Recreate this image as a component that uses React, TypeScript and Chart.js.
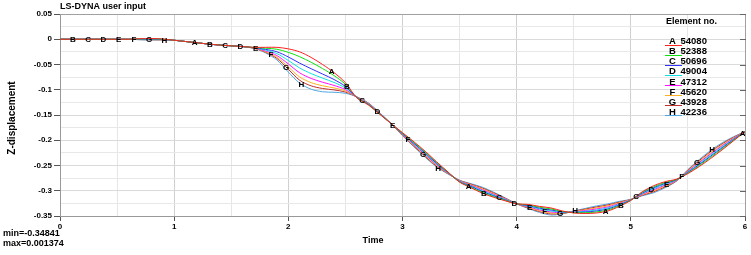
import { useEffect, useRef } from 'react';
import { Chart, registerables } from 'chart.js';

Chart.register(...registerables);

const TIMES = [
  0, 0.1, 0.2, 0.3, 0.4, 0.5, 0.6, 0.7, 0.8, 0.9,
  1.0, 1.1, 1.2, 1.3, 1.4, 1.5, 1.6, 1.7, 1.8, 1.9,
  2.0, 2.1, 2.2, 2.3, 2.4, 2.5, 2.6, 2.7, 2.8, 2.9,
  3.0, 3.1, 3.2, 3.3, 3.4, 3.5, 3.6, 3.7, 3.8, 3.9,
  4.0, 4.1, 4.2, 4.3, 4.4, 4.5, 4.6, 4.7, 4.8, 4.9,
  5.0, 5.1, 5.2, 5.3, 5.4, 5.5, 5.6, 5.7, 5.8, 5.9,
  6.0,
];

const SERIES_A = [
  0, 0, 0, 0, 0, 0, 0, 0.001, 0.0014, 0.0005,
  -0.002, -0.0045, -0.007, -0.0095, -0.0115, -0.013, -0.0145, -0.016, -0.016, -0.016,
  -0.019, -0.025, -0.036, -0.05, -0.066, -0.086, -0.116, -0.13, -0.1485, -0.167,
  -0.185, -0.203, -0.222, -0.243, -0.263, -0.283, -0.294, -0.305, -0.313, -0.32,
  -0.326, -0.327, -0.331, -0.334, -0.34, -0.344, -0.345, -0.344, -0.34, -0.331,
  -0.319, -0.302, -0.29, -0.282, -0.277, -0.266, -0.252, -0.236, -0.219, -0.201,
  -0.183,
];
const SERIES_B = [
  0, 0, 0, 0, 0, 0, 0, 0.0007, 0.001, 0.0002,
  -0.002, -0.0045, -0.007, -0.0095, -0.0115, -0.013, -0.0145, -0.0163, -0.0177, -0.0198,
  -0.0259, -0.0346, -0.0456, -0.0581, -0.0719, -0.0892, -0.1157, -0.1294, -0.1481, -0.167,
  -0.1859, -0.2044, -0.2237, -0.2444, -0.2636, -0.2824, -0.2929, -0.3033, -0.3116, -0.3191,
  -0.326, -0.3281, -0.3327, -0.336, -0.3409, -0.3434, -0.3436, -0.342, -0.338, -0.3296,
  -0.3187, -0.3031, -0.292, -0.2837, -0.2776, -0.2649, -0.25, -0.2337, -0.217, -0.1999,
  -0.183,
];
const SERIES_C = [
  0, 0, 0, 0, 0, 0, 0, 0.0004, 0.0006, -0.0001,
  -0.002, -0.0045, -0.007, -0.0095, -0.0115, -0.013, -0.0145, -0.0167, -0.0199, -0.0248,
  -0.0351, -0.0474, -0.0584, -0.0689, -0.0797, -0.0934, -0.1154, -0.1289, -0.1476, -0.167,
  -0.1867, -0.2059, -0.2254, -0.2459, -0.2641, -0.2819, -0.2917, -0.3016, -0.3101, -0.3183,
  -0.326, -0.3293, -0.3344, -0.338, -0.3417, -0.3429, -0.3421, -0.34, -0.336, -0.3281,
  -0.3184, -0.3043, -0.294, -0.2854, -0.2781, -0.2637, -0.248, -0.2314, -0.215, -0.1987,
  -0.183,
];
const SERIES_D = [
  0, 0, 0, 0, 0, 0, 0, 0.0001, 0.0002, -0.0004,
  -0.002, -0.0045, -0.007, -0.0095, -0.0115, -0.013, -0.0145, -0.017, -0.0215, -0.0285,
  -0.042, -0.057, -0.068, -0.077, -0.0855, -0.0965, -0.1151, -0.1283, -0.1472, -0.167,
  -0.1876, -0.2073, -0.2271, -0.2473, -0.2647, -0.2813, -0.2906, -0.2999, -0.3087, -0.3174,
  -0.326, -0.3304, -0.3361, -0.34, -0.3426, -0.3423, -0.3407, -0.338, -0.334, -0.3267,
  -0.3181, -0.3054, -0.296, -0.2871, -0.2787, -0.2626, -0.246, -0.2291, -0.213, -0.1976,
  -0.183,
];
const SERIES_E = [
  0, 0, 0, 0, 0, 0, 0, -0.0001, -0.0002, -0.0006,
  -0.002, -0.0045, -0.007, -0.0095, -0.0115, -0.013, -0.0145, -0.0173, -0.0232, -0.0323,
  -0.0489, -0.0666, -0.0776, -0.0851, -0.0914, -0.0997, -0.1149, -0.1277, -0.1468, -0.167,
  -0.1884, -0.2087, -0.2289, -0.2487, -0.2653, -0.2807, -0.2894, -0.2981, -0.3073, -0.3166,
  -0.326, -0.3316, -0.3379, -0.342, -0.3434, -0.3417, -0.3393, -0.336, -0.332, -0.3253,
  -0.3179, -0.3066, -0.298, -0.2889, -0.2793, -0.2614, -0.244, -0.2269, -0.211, -0.1964,
  -0.183,
];
const SERIES_F = [
  0, 0, 0, 0, 0, 0, 0, -0.0004, -0.0006, -0.0009,
  -0.002, -0.0045, -0.007, -0.0095, -0.0115, -0.013, -0.0145, -0.0176, -0.0246, -0.0355,
  -0.0549, -0.0749, -0.0859, -0.0921, -0.0964, -0.1024, -0.1146, -0.1271, -0.1464, -0.167,
  -0.1893, -0.2101, -0.2306, -0.2501, -0.2659, -0.2801, -0.2883, -0.2964, -0.3059, -0.3157,
  -0.326, -0.3327, -0.3396, -0.344, -0.3443, -0.3411, -0.3379, -0.334, -0.33, -0.3239,
  -0.3176, -0.3077, -0.3, -0.2906, -0.2799, -0.2603, -0.242, -0.2246, -0.209, -0.1953,
  -0.183,
];
const SERIES_G = [
  0, 0, 0, 0, 0, 0, 0, -0.0007, -0.001, -0.0012,
  -0.002, -0.0045, -0.007, -0.0095, -0.0115, -0.013, -0.0145, -0.0178, -0.0257, -0.038,
  -0.0595, -0.0813, -0.0923, -0.0975, -0.1003, -0.1045, -0.1143, -0.1266, -0.1459, -0.167,
  -0.1901, -0.2116, -0.2323, -0.2516, -0.2664, -0.2796, -0.2871, -0.2947, -0.3044, -0.3149,
  -0.326, -0.3339, -0.3413, -0.346, -0.3451, -0.3406, -0.3364, -0.332, -0.328, -0.3224,
  -0.3173, -0.3089, -0.302, -0.2923, -0.2804, -0.2591, -0.24, -0.2223, -0.207, -0.1941,
  -0.183,
];
const SERIES_H = [
  0, 0, 0, 0, 0, 0, 0, -0.001, -0.0014, -0.0015,
  -0.002, -0.0045, -0.007, -0.0095, -0.0115, -0.013, -0.0145, -0.018, -0.027, -0.041,
  -0.065, -0.087, -0.099, -0.104, -0.105, -0.107, -0.114, -0.126, -0.1455, -0.167,
  -0.191, -0.213, -0.234, -0.253, -0.267, -0.279, -0.286, -0.293, -0.303, -0.314,
  -0.326, -0.335, -0.343, -0.348, -0.346, -0.34, -0.335, -0.33, -0.326, -0.321,
  -0.317, -0.31, -0.304, -0.294, -0.281, -0.258, -0.238, -0.22, -0.205, -0.193,
  -0.183,
];

const CURVE_LETTERS = ['A', 'B', 'C', 'D', 'E', 'F', 'G', 'H'];
const ELEMENT_IDS = ['54080', '52388', '50696', '49004', '47312', '45620', '43928', '42236'];
const ALL_SERIES = [SERIES_A, SERIES_B, SERIES_C, SERIES_D, SERIES_E, SERIES_F, SERIES_G, SERIES_H];
const COLORS = ['#ff2020', '#10e010', '#3030ff', '#10e0e0', '#ff10ff', '#ffb020', '#c03030', '#50a8e0'];

const X_TICKS_MAJOR = [0, 1, 2, 3, 4, 5, 6];
const Y_TICKS_MAJOR = [0.05, 0, -0.05, -0.1, -0.15, -0.2, -0.25, -0.3, -0.35];

const TITLE = 'LS-DYNA user input';
const X_TITLE = 'Time';
const Y_TITLE = 'Z-displacement';
const LEGEND_TITLE = 'Element no.';
const MIN_VALUE = '-0.34841';
const MAX_VALUE = '0.001374';

const FONT = '"Liberation Sans", Arial, Helvetica, sans-serif';

const isMajorX = (v: number) => X_TICKS_MAJOR.some((m) => Math.abs(m - v) < 1e-6);
const isMajorY = (v: number) => Y_TICKS_MAJOR.some((m) => Math.abs(m - v) < 1e-6);

function interp(series: number[], t: number) {
  for (let i = 0; i < TIMES.length - 1; i++) {
    if (t >= TIMES[i] && t <= TIMES[i + 1]) {
      const f = (t - TIMES[i]) / (TIMES[i + 1] - TIMES[i]);
      return series[i] + f * (series[i + 1] - series[i]);
    }
  }
  return series[series.length - 1];
}

const decorPlugin = {
  id: 'decor',
  afterDatasetsDraw(chart: any) {
    const { ctx, scales } = chart;
    const xs = scales.x;
    const ys = scales.y;
    ctx.save();
    ctx.fillStyle = '#000';
    ctx.font = `bold 8px ${FONT}`;
    ctx.textAlign = 'center';
    ctx.textBaseline = 'middle';
    const spacing = 0.13333;
    for (let k = 0; k < 60; k++) {
      const t = -0.02 + k * spacing;
      const idx = k % 9;
      if (idx === 8 || t < 0.02 || t > 6) continue;
      const yv = interp(ALL_SERIES[idx], t);
      ctx.fillText(CURVE_LETTERS[idx], xs.getPixelForValue(t), ys.getPixelForValue(yv) + 0.5);
    }
    ctx.restore();
  },
  afterDraw(chart: any) {
    const { ctx, chartArea, scales } = chart;
    const ys = scales.y;
    ctx.save();
    ctx.strokeStyle = '#a0a0a0';
    ctx.lineWidth = 1;
    ctx.beginPath();
    ctx.moveTo(chartArea.left, chartArea.top + 0.5);
    ctx.lineTo(chartArea.right + 0.5, chartArea.top + 0.5);
    ctx.lineTo(chartArea.right + 0.5, chartArea.bottom);
    ctx.stroke();
    ctx.strokeStyle = '#666';
    Y_TICKS_MAJOR.forEach((v) => {
      const py = Math.round(ys.getPixelForValue(v)) + 0.5;
      ctx.beginPath();
      ctx.moveTo(chartArea.right - 5, py);
      ctx.lineTo(chartArea.right + 1, py);
      ctx.stroke();
    });

    ctx.fillStyle = '#000';
    ctx.font = `bold 9px ${FONT}`;
    ctx.textAlign = 'left';
    ctx.textBaseline = 'middle';
    ctx.fillText(TITLE, 60, 7);
    ctx.fillText('min=' + MIN_VALUE, 3, 234);
    ctx.fillText('max=' + MAX_VALUE, 3, 244);
    ctx.textAlign = 'center';
    ctx.fillText(X_TITLE, 373, 241);
    ctx.save();
    ctx.font = `bold 10px ${FONT}`;
    ctx.translate(12, 118);
    ctx.rotate(-Math.PI / 2);
    ctx.fillText(Y_TITLE, 0, 0);
    ctx.restore();
    ctx.textAlign = 'left';
    ctx.fillText(LEGEND_TITLE, 666, 22);
    for (let i = 0; i < CURVE_LETTERS.length; i++) {
      const ry = 41.5 + i * 10.1;
      ctx.fillStyle = '#000';
      ctx.textAlign = 'center';
      ctx.font = `bold 9.5px ${FONT}`;
      ctx.fillText(CURVE_LETTERS[i], 672.5, ry);
      ctx.textAlign = 'left';
      ctx.fillText(ELEMENT_IDS[i], 680.5, ry);
      ctx.strokeStyle = COLORS[i];
      ctx.beginPath();
      ctx.moveTo(665, Math.round(ry + 3) + 0.5);
      ctx.lineTo(682, Math.round(ry + 3) + 0.5);
      ctx.stroke();
    }
    ctx.restore();
  },
};

export default function App() {
  const ref = useRef<HTMLCanvasElement>(null);
  useEffect(() => {
    document.body.style.margin = '0';
    const canvas = ref.current;
    if (!canvas) return;
    const datasets = ALL_SERIES.map((s, i) => ({
      label: CURVE_LETTERS[i] + ' ' + ELEMENT_IDS[i],
      data: s.map((v, j) => ({ x: TIMES[j], y: v })),
      borderColor: COLORS[i],
      backgroundColor: COLORS[i],
      borderWidth: 1,
      pointRadius: 0,
      tension: 0.3,
      fill: false,
    }));
    const chart = new Chart(canvas, {
      type: 'line',
      data: { datasets },
      plugins: [decorPlugin],
      options: {
        animation: false,
        responsive: false,
        devicePixelRatio: 1,
        layout: { padding: { top: 14, right: 6, left: 0, bottom: 0 } },
        plugins: {
          legend: { display: false },
          tooltip: { enabled: false },
          title: { display: false },
        },
        scales: {
          x: {
            type: 'linear',
            min: 0,
            max: 6,
            afterFit: (s: any) => {
              s.height = 39;
            },
            ticks: {
              stepSize: 0.5,
              autoSkip: false,
              maxRotation: 0,
              padding: 1,
              color: '#000',
              font: { family: FONT, size: 8, weight: 'bold' },
              callback: (v: any) => (isMajorX(Number(v)) ? String(Math.round(Number(v))) : ''),
            },
            grid: {
              color: (c: any) => (isMajorX(c.tick.value) ? '#cfcfcf' : '#e6e6e6'),
              tickColor: (c: any) => (isMajorX(c.tick.value) ? '#555' : 'rgba(0,0,0,0)'),
              tickLength: 5,
            },
            border: { color: '#999' },
          },
          y: {
            type: 'linear',
            min: -0.35,
            max: 0.05,
            afterFit: (s: any) => {
              s.width = 60;
            },
            ticks: {
              stepSize: 0.025,
              autoSkip: false,
              padding: 2,
              color: '#000',
              font: { family: FONT, size: 8, weight: 'bold' },
              callback: (v: any) => {
                const n = Number(v);
                if (!isMajorY(n)) return '';
                if (Math.abs(n) < 1e-9) return '0';
                return String(Number(n.toFixed(3)));
              },
            },
            grid: {
              color: (c: any) => (isMajorY(c.tick.value) ? '#dadada' : '#e8e8e8'),
              tickColor: (c: any) => (isMajorY(c.tick.value) ? '#555' : 'rgba(0,0,0,0)'),
              tickLength: 6,
            },
            border: { color: '#999' },
          },
        },
      },
    });
    return () => chart.destroy();
  }, []);
  return (
    <div style={{ width: 751, height: 255, background: '#fff' }}>
      <canvas ref={ref} width={751} height={255} style={{ display: 'block', width: 751, height: 255 }} />
    </div>
  );
}
